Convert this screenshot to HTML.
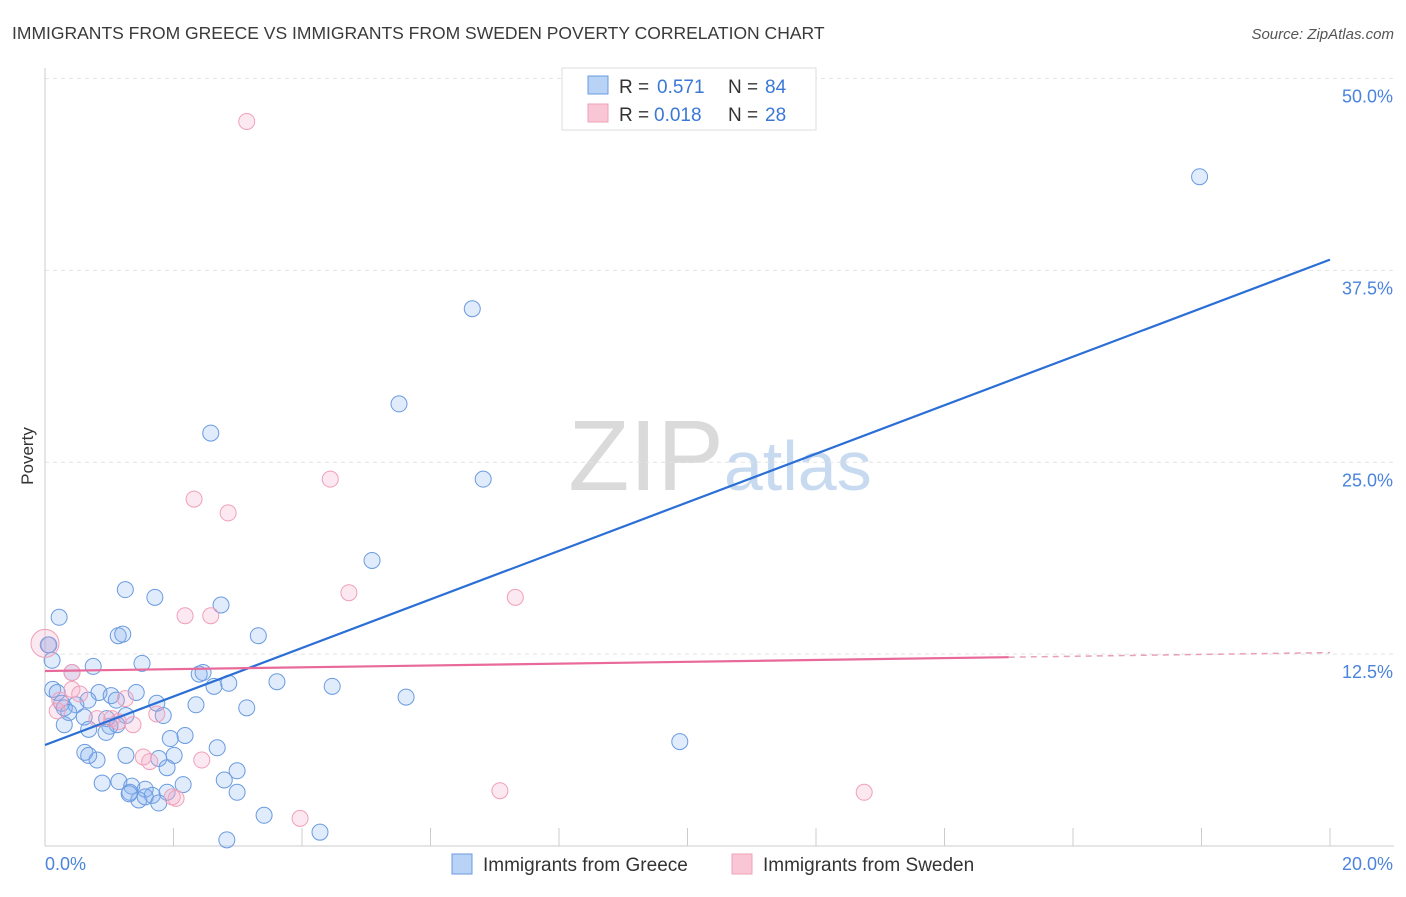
<!DOCTYPE html>
<html><head><meta charset="utf-8"><style>
body{margin:0;background:#fff;font-family:"Liberation Sans",sans-serif;}
svg text{font-family:"Liberation Sans",sans-serif;}
</style></head><body>
<svg id="chart" width="1406" height="892" xmlns="http://www.w3.org/2000/svg">
<text x="12" y="39" font-size="17.5" fill="#3a3a3a">IMMIGRANTS FROM GREECE VS IMMIGRANTS FROM SWEDEN POVERTY CORRELATION CHART</text>
<text x="1394" y="39" font-size="15" fill="#555" text-anchor="end" font-style="italic">Source: ZipAtlas.com</text>
<text x="720" y="490" font-size="100" text-anchor="middle" fill="#dadada" font-family="Liberation Serif">ZIP<tspan fill="#c8daf0" font-family="Liberation Sans" font-size="70">atlas</tspan></text>
<g id="grid"></g>
<g id="axes"></g>
<g id="marks"></g>
<text transform="translate(33,456) rotate(-90)" font-size="17" fill="#333" text-anchor="middle">Poverty</text>
<g>
<rect x="562" y="68" width="254" height="62" fill="#fff" stroke="#ddd"/>
<rect x="588" y="76" width="20" height="18" fill="#b8d3f5" stroke="#6a9be0"/>
<text x="619" y="93" font-size="19" fill="#333">R =</text>
<text x="657" y="93" font-size="19" fill="#3a78d8">0.571</text>
<text x="728" y="93" font-size="19" fill="#333">N =</text>
<text x="765" y="93" font-size="19" fill="#3a78d8">84</text>
<rect x="588" y="104" width="20" height="18" fill="#f9c6d6" stroke="#f0a0b8"/>
<text x="619" y="121" font-size="19" fill="#333">R =</text>
<text x="654" y="121" font-size="19" fill="#3a78d8">0.018</text>
<text x="728" y="121" font-size="19" fill="#333">N =</text>
<text x="765" y="121" font-size="19" fill="#3a78d8">28</text>
</g>
<g>
<rect x="452" y="854" width="20" height="20" fill="#b8d3f5" stroke="#6a9be0"/>
<text x="483" y="871" font-size="19" fill="#333">Immigrants from Greece</text>
<rect x="732" y="854" width="20" height="20" fill="#f9c6d6" stroke="#f0a0b8"/>
<text x="763" y="871" font-size="19" fill="#333">Immigrants from Sweden</text>
</g>
</svg>
<script>
const yTicks=[12.5,25,37.5,50];
const yTickLabels=["12.5%","25.0%","37.5%","50.0%"];
const xTicks=[0,2,4,6,8,10,12,14,16,18,20];
const greeceX=[17.97,6.65,5.51,2.58,6.82,5.09,1.25,1.71,2.74,0.22,1.14,1.21,3.32,0.05,0.11,1.51,0.75,0.42,2.40,2.46,2.86,2.63,3.61,4.47,5.62,0.12,0.19,1.42,0.84,1.03,1.11,0.67,0.26,0.48,0.30,1.74,2.35,3.14,1.84,0.37,0.61,0.96,0.30,1.26,1.12,1.01,0.68,0.95,1.95,2.18,2.68,9.88,0.62,1.26,0.81,1.77,2.01,0.68,1.90,2.99,0.89,1.15,1.35,1.56,1.32,2.15,1.90,2.79,1.46,1.31,2.99,1.67,1.56,1.77,3.41,4.28,2.83,0.06];
const greeceY=[43.6,35.0,28.8,26.9,23.9,18.6,16.7,16.2,15.7,14.9,13.7,13.8,13.7,13.1,12.1,11.9,11.7,11.3,11.2,11.3,10.6,10.4,10.7,10.4,9.7,10.2,10.0,10.0,10.0,9.8,9.5,9.5,9.3,9.2,9.0,9.3,9.2,9.0,8.5,8.7,8.4,8.3,7.9,8.5,7.9,7.8,7.6,7.4,7.0,7.2,6.4,6.8,6.1,5.9,5.6,5.7,5.9,5.9,5.1,4.9,4.1,4.2,3.9,3.7,3.5,4.0,3.5,4.3,3.0,3.4,3.5,3.3,3.2,2.8,2.0,0.9,0.4,13.1];
const swedenX=[3.14,4.44,2.32,2.85,4.73,7.32,2.18,2.58,0.0,0.42,0.42,0.54,0.23,0.19,0.81,1.04,1.25,1.14,1.37,1.74,1.53,1.63,2.44,1.98,2.04,3.97,7.08,12.75];
const swedenY=[47.2,23.9,22.6,21.7,16.5,16.2,15.0,15.0,13.2,11.3,10.2,9.9,9.5,8.8,8.3,8.3,9.6,8.1,7.9,8.6,5.8,5.5,5.6,3.2,3.1,1.8,3.6,3.5];
const blueTrend=[6.58,38.2];
const pinkTrend=[11.4,12.6];
const X0=45,X1=1330,Y0=846,Y1=78.5;
const sx=v=>X0+(v-0)/20*(X1-X0);
const sy=v=>Y0-(v/50)*(Y0-Y1);
const NS="http://www.w3.org/2000/svg";
function mk(tag,parent,attrs){const e=document.createElementNS(NS,tag);for(const k in attrs)e.setAttribute(k,attrs[k]);parent.appendChild(e);return e;}
const grid=document.getElementById('grid'),axes=document.getElementById('axes'),marks=document.getElementById('marks');
yTicks.forEach((t,i)=>{
 const l=mk('line',grid,{x1:X0,x2:1394,y1:sy(t),y2:sy(t),stroke:'#e4e4e4','stroke-dasharray':'4,4'});
 
 
 const tx=mk('text',axes,{x:1393,y:sy(t)+24,'font-size':18,fill:'#4a84dc','text-anchor':'end'});
 tx.textContent=yTickLabels[i];
 
 
});
const ya=mk('line',axes,{x1:X0,x2:X0,y1:68,y2:Y0,stroke:'#ccc'});


const xa=mk('line',axes,{x1:X0,x2:1394,y1:Y0,y2:Y0,stroke:'#ccc'});


xTicks.forEach(t=>{
 const l=mk('line',axes,{x1:sx(t),x2:sx(t),y1:828,y2:Y0,stroke:'#ccc'});
 
 
});
const xl0=mk('text',axes,{x:45,y:870,'font-size':18,fill:'#4a84dc'});xl0.textContent='0.0%';


const xl1=mk('text',axes,{x:1393,y:870,'font-size':18,fill:'#4a84dc','text-anchor':'end'});xl1.textContent='20.0%';


greeceX.forEach((v,i)=>{
 const c=mk('circle',marks,{cx:sx(v),cy:sy(greeceY[i]),r:8,fill:'rgba(130,175,240,0.25)',stroke:'#6a9be0','stroke-width':1});
 
 
});
swedenX.forEach((v,i)=>{
 const c=mk('circle',marks,{cx:sx(v),cy:sy(swedenY[i]),r:i===8?14:8,fill:'rgba(245,165,195,0.25)',stroke:'#f0a0b8','stroke-width':1});
 
 
});
const bl=mk('line',marks,{x1:sx(0),y1:sy(blueTrend[0]),x2:sx(20),y2:sy(blueTrend[1]),stroke:'#2b6fd6','stroke-width':2.2});


const xm=15;const pm=pinkTrend[0]+(pinkTrend[1]-pinkTrend[0])*xm/20;
const pl=mk('line',marks,{x1:sx(0),y1:sy(pinkTrend[0]),x2:sx(xm),y2:sy(pm),stroke:'#e8699a','stroke-width':2.2});


const pd=mk('line',marks,{x1:sx(xm),y1:sy(pm),x2:sx(20),y2:sy(pinkTrend[1]),stroke:'#e8a0ba','stroke-width':1.5,'stroke-dasharray':'6,5'});


</script>
</body></html>
